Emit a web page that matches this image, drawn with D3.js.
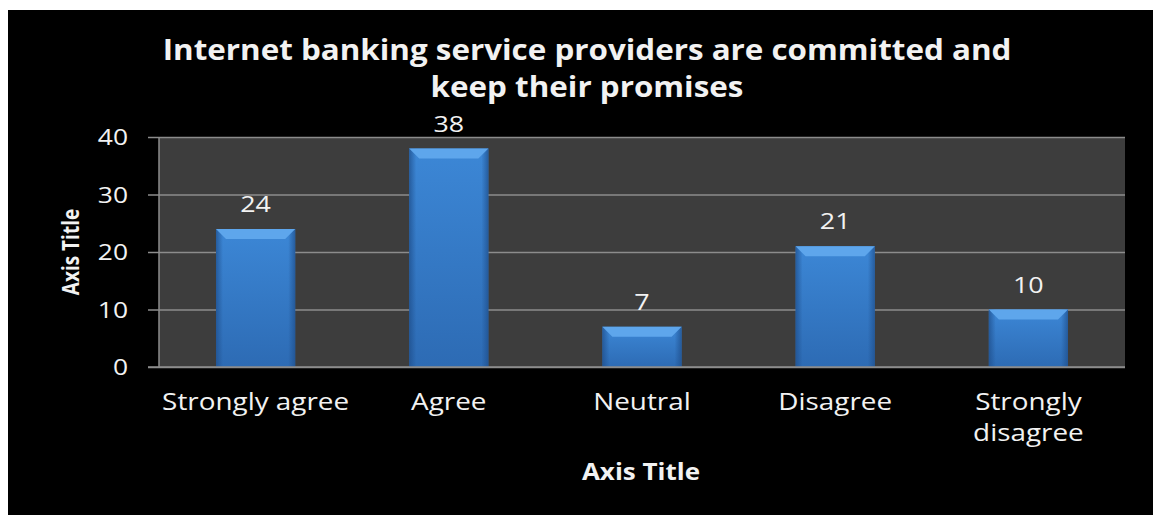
<!DOCTYPE html>
<html>
<head>
<meta charset="utf-8">
<script src="https://cdn.jsdelivr.net/npm/d3@7"></script>
<style>
  html, body { margin: 0; padding: 0; background: #ffffff; }
  svg { display: block; }
  text { font-family: "Open Sans", "DejaVu Sans", sans-serif; fill: #f2f2f2; }
</style>
</head>
<body>
<script>
// Survey responses
const categories = ["Strongly agree", "Agree", "Neutral", "Disagree", "Strongly disagree"];
const values = [24, 38, 7, 21, 10];
const yTicks = [0, 10, 20, 30, 40];
const titleLines = ["Internet banking service providers are committed and", "keep their promises"];
const xAxisTitle = "Axis Title";
const yAxisTitle = "Axis Title";

const W = 1153, H = 515;
const plot = { left: 159, top: 137, right: 1125, bottom: 367 };

const svg = d3.select("body").append("svg").attr("width", W).attr("height", H);

// Widen glyphs horizontally by a factor, keeping the anchor point
function widen(sel, k) {
  sel.each(function () {
    const n = this;
    const len = n.getComputedTextLength();
    d3.select(n).attr("textLength", len * k).attr("lengthAdjust", "spacingAndGlyphs");
  });
}

// Chart frame
svg.append("rect").attr("x", 8).attr("y", 10).attr("width", W - 8).attr("height", H - 10).attr("fill", "#000");

const defs = svg.append("defs");
const bodyGrad = defs.append("linearGradient").attr("id", "barBody").attr("x1", 0).attr("y1", 0).attr("x2", 0).attr("y2", 1);
bodyGrad.append("stop").attr("offset", "0%").attr("stop-color", "#3c87d6");
bodyGrad.append("stop").attr("offset", "100%").attr("stop-color", "#2d6bb4");
const sideGrad = defs.append("linearGradient").attr("id", "barSide").attr("x1", 0).attr("y1", 0).attr("x2", 1).attr("y2", 0);
sideGrad.append("stop").attr("offset", "0%").attr("stop-color", "#1f4f8c").attr("stop-opacity", 0.75);
sideGrad.append("stop").attr("offset", "100%").attr("stop-color", "#1f4f8c").attr("stop-opacity", 0);
const sideGradR = defs.append("linearGradient").attr("id", "barSideR").attr("x1", 1).attr("y1", 0).attr("x2", 0).attr("y2", 0);
sideGradR.append("stop").attr("offset", "0%").attr("stop-color", "#1f4f8c").attr("stop-opacity", 0.75);
sideGradR.append("stop").attr("offset", "100%").attr("stop-color", "#1f4f8c").attr("stop-opacity", 0);

const x = d3.scaleBand().domain(categories).range([plot.left, plot.right]).paddingInner(0.59).paddingOuter(0.295);
const y = d3.scaleLinear().domain([0, 40]).range([plot.bottom, plot.top]);

// Plot area
svg.append("rect").attr("x", plot.left).attr("y", plot.top)
  .attr("width", plot.right - plot.left).attr("height", plot.bottom - plot.top).attr("fill", "#3d3d3d");

// Gridlines and y axis
const yAxis = d3.axisLeft(y).tickValues(yTicks).tickSize(plot.right - plot.left + 11).tickPadding(20);
const yg = svg.append("g").attr("transform", `translate(${plot.right},0)`).call(yAxis);
yg.select(".domain").remove();
yg.selectAll(".tick line").attr("stroke", "#8c8c8c").attr("stroke-width", 1.5);
yg.selectAll(".tick text").attr("font-size", 22).attr("fill", "#f2f2f2").attr("dy", "0.36em")
  .attr("font-family", "'Open Sans', sans-serif");
widen(yg.selectAll(".tick text"), 1.2);

// Left axis line
svg.append("line").attr("x1", plot.left).attr("x2", plot.left).attr("y1", plot.top).attr("y2", plot.bottom)
  .attr("stroke", "#8c8c8c").attr("stroke-width", 1.5);

// Bars with bevelled top edge
const bw = x.bandwidth();
const bev = 10;
const bars = svg.append("g").selectAll("g").data(categories).join("g")
  .attr("transform", (d, i) => `translate(${x(d)},${y(values[i])})`);
bars.append("rect").attr("width", bw).attr("height", (d, i) => y(0) - y(values[i])).attr("fill", "url(#barBody)");
bars.append("rect").attr("width", 7).attr("height", (d, i) => y(0) - y(values[i])).attr("fill", "url(#barSide)");
bars.append("rect").attr("x", bw - 7).attr("width", 7).attr("height", (d, i) => y(0) - y(values[i])).attr("fill", "url(#barSideR)");
bars.append("path")
  .attr("d", `M0,0 L${bw},0 L${bw - bev},${bev} L${bev},${bev} Z`)
  .attr("fill", "#5ea6ec");

// Bottom axis line
svg.append("line").attr("x1", plot.left - 11).attr("x2", plot.right).attr("y1", plot.bottom).attr("y2", plot.bottom)
  .attr("stroke", "#8c8c8c").attr("stroke-width", 1.5);

// Value labels
const vl = svg.append("g").selectAll("text").data(categories).join("text")
  .attr("x", d => x(d) + bw / 2)
  .attr("y", (d, i) => y(values[i]) - 17)
  .attr("text-anchor", "middle").attr("font-size", 22)
  .text((d, i) => values[i]);
widen(vl, 1.22);

// Category labels (wrapped when wider than the band)
const xl = svg.append("g").selectAll("text").data(categories).join("text")
  .attr("x", d => x(d) + bw / 2)
  .attr("y", 410)
  .attr("text-anchor", "middle").attr("font-size", 24);
xl.each(function (d) {
  const t = d3.select(this);
  const words = d === "Strongly disagree" ? ["Strongly", "disagree"] : [d];
  words.forEach((w, k) => t.append("tspan").attr("x", x(d) + bw / 2).attr("dy", k === 0 ? 0 : 31).text(w));
});
xl.selectAll("tspan").each(function () {
  const len = this.getComputedTextLength();
  d3.select(this).attr("textLength", len * 1.16).attr("lengthAdjust", "spacingAndGlyphs");
});

// Title
const tt = svg.append("g").selectAll("text").data(titleLines).join("text")
  .attr("x", 587).attr("y", (d, i) => 60 + i * 37)
  .attr("text-anchor", "middle").attr("font-size", 28).attr("font-weight", "bold")
  .text(d => d);
widen(tt, 1.12);

// Axis titles
const xt = svg.append("text").attr("x", 641).attr("y", 480).attr("text-anchor", "middle")
  .attr("font-size", 23).attr("font-weight", "bold").text(xAxisTitle);
widen(xt, 1.13);
svg.append("text").attr("transform", `translate(79,${(plot.top + plot.bottom) / 2}) scale(1.2,1) rotate(-90)`)
  .attr("text-anchor", "middle").attr("font-size", 19).attr("font-weight", "bold").text(yAxisTitle);
</script>
</body>
</html>
